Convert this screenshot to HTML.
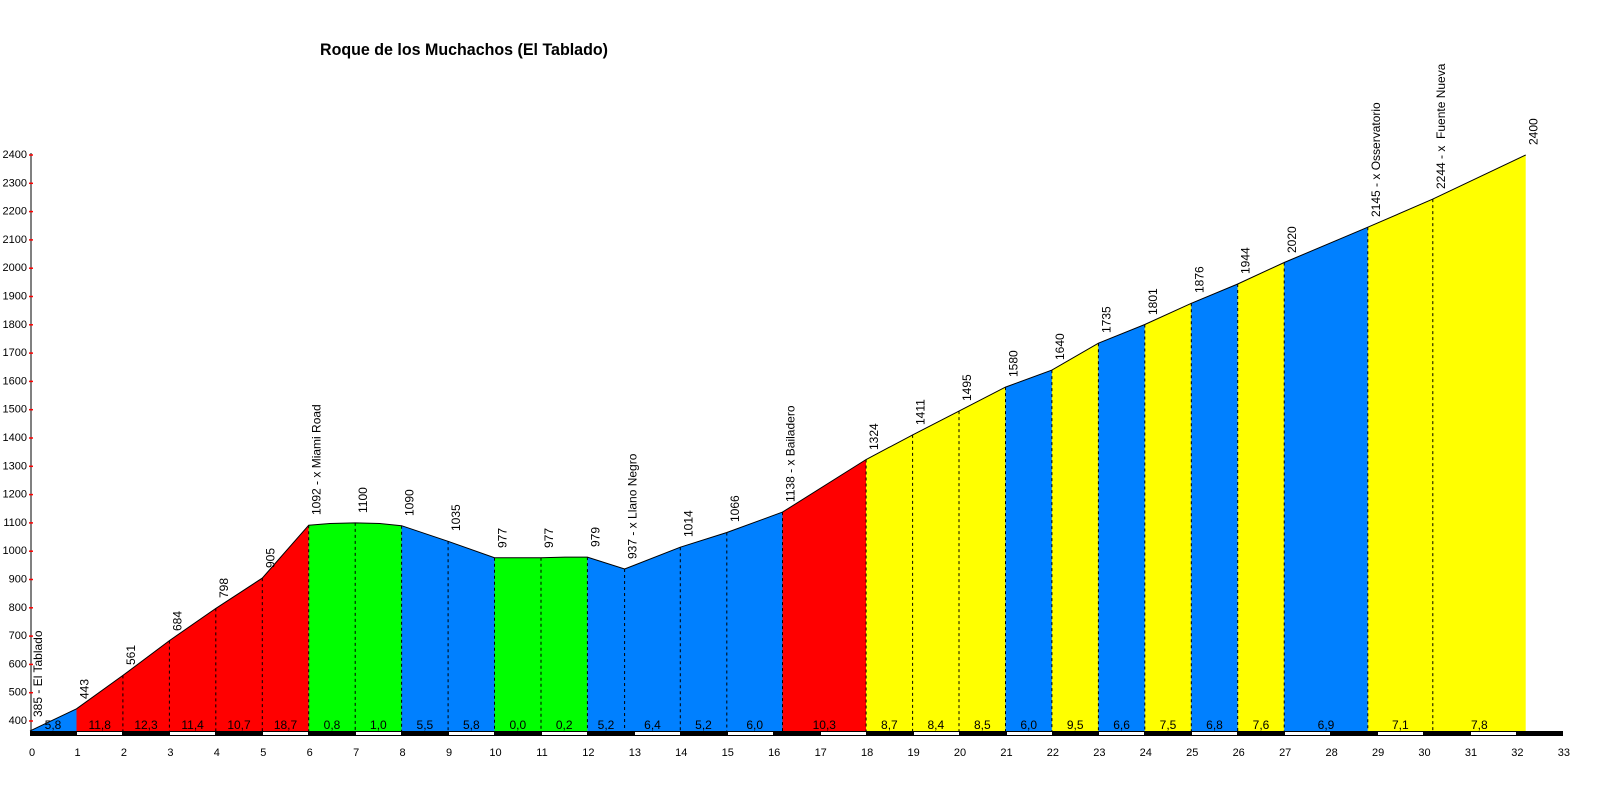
<!DOCTYPE html>
<html><head><meta charset="utf-8"><style>
html,body{margin:0;padding:0;background:#fff;}
svg{display:block;font-family:"Liberation Sans",Arial,sans-serif;}
.e{font-size:12px;fill:#000;}
.g{font-size:12px;fill:#000;text-anchor:middle;}
.yl{font-size:11px;text-anchor:end;}
.xl{font-size:11px;text-anchor:middle;}
</style></head><body>
<svg width="1600" height="800" viewBox="0 0 1600 800" xmlns="http://www.w3.org/2000/svg">
<text x="464" y="55" font-size="17" font-weight="bold" text-anchor="middle" textLength="288" lengthAdjust="spacingAndGlyphs">Roque de los Muchachos (El Tablado)</text>
<g stroke="none">
<polygon fill="#0080FF" points="30,731 30,730.9 76.5,708.8 76.5,731"/>
<polygon fill="#FF0000" points="76.5,731 76.5,708.8 122.9,675.4 169.4,640.6 215.8,608.4 262.3,578.1 308.7,525.2 308.7,731"/>
<polygon fill="#00FF00" points="308.7,731 308.7,525.2 330,523.5 355.2,522.9 380,523.5 401.6,525.7 401.6,731"/>
<polygon fill="#0080FF" points="401.6,731 401.6,525.7 448.1,541.3 494.5,557.7 494.5,731"/>
<polygon fill="#00FF00" points="494.5,731 494.5,557.7 541,557.7 565,557.1 587.4,557.1 587.4,731"/>
<polygon fill="#0080FF" points="587.4,731 587.4,557.1 624.6,569 680.3,547.2 726.8,532.5 782.5,512.1 782.5,731"/>
<polygon fill="#FF0000" points="782.5,731 782.5,512.1 866.1,459.5 866.1,731"/>
<polygon fill="#FFFF00" points="866.1,731 866.1,459.5 912.6,434.9 959,411.1 1005.5,387.1 1005.5,731"/>
<polygon fill="#0080FF" points="1005.5,731 1005.5,387.1 1051.9,370.1 1051.9,731"/>
<polygon fill="#FFFF00" points="1051.9,731 1051.9,370.1 1098.4,343.2 1098.4,731"/>
<polygon fill="#0080FF" points="1098.4,731 1098.4,343.2 1144.8,324.5 1144.8,731"/>
<polygon fill="#FFFF00" points="1144.8,731 1144.8,324.5 1191.3,303.3 1191.3,731"/>
<polygon fill="#0080FF" points="1191.3,731 1191.3,303.3 1237.7,284 1237.7,731"/>
<polygon fill="#FFFF00" points="1237.7,731 1237.7,284 1284.2,262.5 1284.2,731"/>
<polygon fill="#0080FF" points="1284.2,731 1284.2,262.5 1367.8,227.2 1367.8,731"/>
<polygon fill="#FFFF00" points="1367.8,731 1367.8,227.2 1432.8,199.1 1525.7,155 1525.7,731"/>
</g>
<polyline fill="none" stroke="#000" stroke-width="1" points="30,730.9 76.5,708.8 122.9,675.4 169.4,640.6 215.8,608.4 262.3,578.1 308.7,525.2 330,523.5 355.2,522.9 380,523.5 401.6,525.7 448.1,541.3 494.5,557.7 541,557.7 565,557.1 587.4,557.1 624.6,569 680.3,547.2 726.8,532.5 782.5,512.1 866.1,459.5 912.6,434.9 959,411.1 1005.5,387.1 1051.9,370.1 1098.4,343.2 1144.8,324.5 1191.3,303.3 1237.7,284 1284.2,262.5 1367.8,227.2 1432.8,199.1 1525.7,155"/>
<g stroke="#000" stroke-width="1" stroke-dasharray="3,3">
<line x1="122.9" y1="675.4" x2="122.9" y2="731"/><line x1="169.4" y1="640.6" x2="169.4" y2="731"/>
<line x1="215.8" y1="608.4" x2="215.8" y2="731"/><line x1="262.3" y1="578.1" x2="262.3" y2="731"/>
<line x1="308.7" y1="525.2" x2="308.7" y2="731"/><line x1="355.2" y1="522.9" x2="355.2" y2="731"/>
<line x1="401.6" y1="525.7" x2="401.6" y2="731"/><line x1="448.1" y1="541.3" x2="448.1" y2="731"/>
<line x1="494.5" y1="557.7" x2="494.5" y2="731"/><line x1="541" y1="557.7" x2="541" y2="731"/>
<line x1="587.4" y1="557.1" x2="587.4" y2="731"/><line x1="624.6" y1="569" x2="624.6" y2="731"/>
<line x1="680.3" y1="547.2" x2="680.3" y2="731"/><line x1="726.8" y1="532.5" x2="726.8" y2="731"/>
<line x1="782.5" y1="512.1" x2="782.5" y2="731"/><line x1="866.1" y1="459.5" x2="866.1" y2="731"/>
<line x1="912.6" y1="434.9" x2="912.6" y2="731"/><line x1="959" y1="411.1" x2="959" y2="731"/>
<line x1="1005.5" y1="387.1" x2="1005.5" y2="731"/><line x1="1051.9" y1="370.1" x2="1051.9" y2="731"/>
<line x1="1098.4" y1="343.2" x2="1098.4" y2="731"/><line x1="1144.8" y1="324.5" x2="1144.8" y2="731"/>
<line x1="1191.3" y1="303.3" x2="1191.3" y2="731"/><line x1="1237.7" y1="284" x2="1237.7" y2="731"/>
<line x1="1284.2" y1="262.5" x2="1284.2" y2="731"/><line x1="1367.8" y1="227.2" x2="1367.8" y2="731"/>
<line x1="1432.8" y1="199.1" x2="1432.8" y2="731"/>
</g>
<line x1="31" y1="153" x2="31" y2="731" stroke="#000"/>
<g stroke="#FF0000" stroke-width="1.5">
<line x1="29" x2="33" y1="721" y2="721"/><line x1="29" x2="33" y1="692.7" y2="692.7"/><line x1="29" x2="33" y1="664.4" y2="664.4"/><line x1="29" x2="33" y1="636.1" y2="636.1"/><line x1="29" x2="33" y1="607.8" y2="607.8"/><line x1="29" x2="33" y1="579.5" y2="579.5"/><line x1="29" x2="33" y1="551.2" y2="551.2"/><line x1="29" x2="33" y1="522.9" y2="522.9"/><line x1="29" x2="33" y1="494.6" y2="494.6"/><line x1="29" x2="33" y1="466.3" y2="466.3"/><line x1="29" x2="33" y1="438" y2="438"/><line x1="29" x2="33" y1="409.7" y2="409.7"/><line x1="29" x2="33" y1="381.4" y2="381.4"/><line x1="29" x2="33" y1="353.1" y2="353.1"/><line x1="29" x2="33" y1="324.8" y2="324.8"/><line x1="29" x2="33" y1="296.5" y2="296.5"/><line x1="29" x2="33" y1="268.2" y2="268.2"/><line x1="29" x2="33" y1="239.9" y2="239.9"/><line x1="29" x2="33" y1="211.6" y2="211.6"/><line x1="29" x2="33" y1="183.3" y2="183.3"/><line x1="29" x2="33" y1="155" y2="155"/>
</g>
<g class="yl" dominant-baseline="central">
<text x="27" y="721">400</text><text x="27" y="692.7">500</text><text x="27" y="664.4">600</text><text x="27" y="636.1">700</text><text x="27" y="607.8">800</text><text x="27" y="579.5">900</text><text x="27" y="551.2">1000</text><text x="27" y="522.9">1100</text><text x="27" y="494.6">1200</text><text x="27" y="466.3">1300</text><text x="27" y="438">1400</text><text x="27" y="409.7">1500</text><text x="27" y="381.4">1600</text><text x="27" y="353.1">1700</text><text x="27" y="324.8">1800</text><text x="27" y="296.5">1900</text><text x="27" y="268.2">2000</text><text x="27" y="239.9">2100</text><text x="27" y="211.6">2200</text><text x="27" y="183.3">2300</text><text x="27" y="155">2400</text>
</g>
<rect x="30" y="731" width="1533" height="5" fill="#000"/>
<g fill="#fff">
<rect x="77" y="732" width="45" height="3"/><rect x="170" y="732" width="45" height="3"/><rect x="263" y="732" width="45" height="3"/><rect x="356" y="732" width="45" height="3"/><rect x="449" y="732" width="45" height="3"/><rect x="542" y="732" width="45" height="3"/><rect x="635" y="732" width="45" height="3"/><rect x="728" y="732" width="45" height="3"/><rect x="821" y="732" width="45" height="3"/><rect x="914" y="732" width="45" height="3"/><rect x="1007" y="732" width="45" height="3"/><rect x="1099" y="732" width="45" height="3"/><rect x="1192" y="732" width="45" height="3"/><rect x="1285" y="732" width="45" height="3"/><rect x="1378" y="732" width="45" height="3"/><rect x="1471" y="732" width="45" height="3"/>
</g>
<g class="xl">
<text x="32" y="756">0</text><text x="77.5" y="756">1</text><text x="123.9" y="756">2</text><text x="170.4" y="756">3</text><text x="216.8" y="756">4</text><text x="263.3" y="756">5</text><text x="309.7" y="756">6</text><text x="356.2" y="756">7</text><text x="402.6" y="756">8</text><text x="449.1" y="756">9</text><text x="495.5" y="756">10</text><text x="542" y="756">11</text><text x="588.4" y="756">12</text><text x="634.9" y="756">13</text><text x="681.3" y="756">14</text><text x="727.8" y="756">15</text><text x="774.2" y="756">16</text><text x="820.7" y="756">17</text><text x="867.1" y="756">18</text><text x="913.6" y="756">19</text><text x="960" y="756">20</text><text x="1006.5" y="756">21</text><text x="1052.9" y="756">22</text><text x="1099.4" y="756">23</text><text x="1145.8" y="756">24</text><text x="1192.3" y="756">25</text><text x="1238.7" y="756">26</text><text x="1285.2" y="756">27</text><text x="1331.6" y="756">28</text><text x="1378.1" y="756">29</text><text x="1424.5" y="756">30</text><text x="1471" y="756">31</text><text x="1517.4" y="756">32</text><text x="1563.9" y="756">33</text>
</g>
<g class="g">
<text x="53" y="729">5,8</text><text x="99.7" y="729">11,8</text><text x="146" y="729">12,3</text><text x="192.6" y="729">11,4</text><text x="239" y="729">10,7</text><text x="285.5" y="729">18,7</text><text x="332" y="729">0,8</text><text x="378.4" y="729">1,0</text><text x="424.9" y="729">5,5</text><text x="471.3" y="729">5,8</text><text x="517.8" y="729">0,0</text><text x="564.2" y="729">0,2</text><text x="606" y="729">5,2</text><text x="652.5" y="729">6,4</text><text x="703.5" y="729">5,2</text><text x="754.7" y="729">6,0</text><text x="824.3" y="729">10,3</text><text x="889.4" y="729">8,7</text><text x="935.8" y="729">8,4</text><text x="982.3" y="729">8,5</text><text x="1028.7" y="729">6,0</text><text x="1075.2" y="729">9,5</text><text x="1121.6" y="729">6,6</text><text x="1168" y="729">7,5</text><text x="1214.5" y="729">6,8</text><text x="1261" y="729">7,6</text><text x="1326" y="729">6,9</text><text x="1400.3" y="729">7,1</text><text x="1479.3" y="729">7,8</text>
</g>
<g class="e" dominant-baseline="central">
<text transform="translate(38,717) rotate(-90)">385 - El Tablado</text>
<text transform="translate(84.5,699) rotate(-90)">443</text>
<text transform="translate(131,665) rotate(-90)">561</text>
<text transform="translate(177.4,631) rotate(-90)">684</text>
<text transform="translate(223.8,598) rotate(-90)">798</text>
<text transform="translate(270.3,568) rotate(-90)">905</text>
<text transform="translate(316.7,515) rotate(-90)">1092 - x Miami Road</text>
<text transform="translate(363.2,513) rotate(-90)">1100</text>
<text transform="translate(409.6,516) rotate(-90)">1090</text>
<text transform="translate(456.1,531) rotate(-90)">1035</text>
<text transform="translate(502.5,548) rotate(-90)">977</text>
<text transform="translate(549,548) rotate(-90)">977</text>
<text transform="translate(595.4,547) rotate(-90)">979</text>
<text transform="translate(632.6,559) rotate(-90)">937 - x Llano Negro</text>
<text transform="translate(688.3,537) rotate(-90)">1014</text>
<text transform="translate(734.8,522) rotate(-90)">1066</text>
<text transform="translate(790.5,502) rotate(-90)">1138 - x Bailadero</text>
<text transform="translate(874.1,450) rotate(-90)">1324</text>
<text transform="translate(920.6,425) rotate(-90)">1411</text>
<text transform="translate(967,401) rotate(-90)">1495</text>
<text transform="translate(1013.5,377) rotate(-90)">1580</text>
<text transform="translate(1059.9,360) rotate(-90)">1640</text>
<text transform="translate(1106.4,333) rotate(-90)">1735</text>
<text transform="translate(1152.8,315) rotate(-90)">1801</text>
<text transform="translate(1199.3,293) rotate(-90)">1876</text>
<text transform="translate(1245.7,274) rotate(-90)">1944</text>
<text transform="translate(1292.2,253) rotate(-90)">2020</text>
<text transform="translate(1375.8,217) rotate(-90)">2145 - x Osservatorio</text>
<text transform="translate(1440.8,189) rotate(-90)">2244 - x &#160;Fuente Nueva</text>
<text transform="translate(1533.7,145) rotate(-90)">2400</text>
</g>
</svg>
</body></html>
